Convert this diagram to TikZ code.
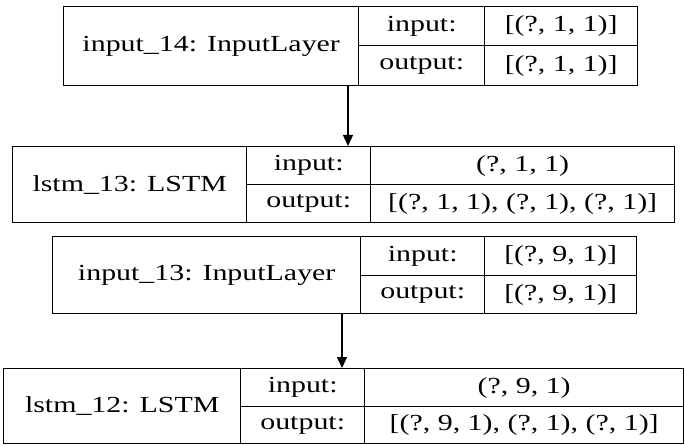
\documentclass[tikz,border=0pt]{standalone}
\usepackage{fontspec}
\setmainfont{Liberation Serif}[FakeStretch=1.3]
\usetikzlibrary{arrows.meta}
\tikzset{
  cell/.style={draw, line width=1.4pt, inner sep=0pt, anchor=north west, font=\fontsize{23}{26}\selectfont},
  flow/.style={-{Triangle[length=11pt,width=10pt]}, line width=1.4pt}
}
% rows of the next layer box: ytop, ymid, ybot
\newcommand{\layerrows}[3]{\def\yt{#1}\def\ym{#2}\def\yb{#3}}
% one layer box: name, x0, x1, x2, x3, title, input, output
\newcommand{\layerbox}[8]{
  \pgfmathsetmacro{\wa}{#3-#2}\pgfmathsetmacro{\wb}{#4-#3}\pgfmathsetmacro{\wc}{#5-#4}
  \pgfmathsetmacro{\ha}{\ym-\yt}\pgfmathsetmacro{\hb}{\yb-\ym}\pgfmathsetmacro{\hc}{\yb-\yt}
  \node[cell, minimum width=\wa pt, minimum height=\hc pt] (#1) at (#2,-\yt) {#6};
  \node[cell, minimum width=\wb pt, minimum height=\ha pt] (#1-il) at (#3,-\yt) {input:};
  \node[cell, minimum width=\wb pt, minimum height=\hb pt] (#1-ol) at (#3,-\ym) {output:};
  \node[cell, minimum width=\wc pt, minimum height=\ha pt] (#1-iv) at (#4,-\yt) {#7};
  \node[cell, minimum width=\wc pt, minimum height=\hb pt] (#1-ov) at (#4,-\ym) {#8};
}
\begin{document}
\begin{tikzpicture}[x=1pt, y=1pt]
  \useasboundingbox (0,0) rectangle (685,-446);
  \layerrows{6}{45}{85}
  \layerbox{in14}{63}{358}{484}{637}{input\_14: InputLayer}{[(?, 1, 1)]}{[(?, 1, 1)]}
  \layerrows{146}{184}{222}
  \layerbox{lstm13}{12}{246}{370}{674}{lstm\_13: LSTM}{(?, 1, 1)}{[(?, 1, 1), (?, 1), (?, 1)]}
  \layerrows{236}{275}{313}
  \layerbox{in13}{52}{360}{484}{636}{input\_13: InputLayer}{[(?, 9, 1)]}{[(?, 9, 1)]}
  \layerrows{368}{406}{443}
  \layerbox{lstm12}{3}{240}{364}{683}{lstm\_12: LSTM}{(?, 9, 1)}{[(?, 9, 1), (?, 1), (?, 1)]}
  \draw[flow] (in14.south -| 348,0) -- (lstm13.north -| 348,0);
  \draw[flow] (in13.south -| 342,0) -- (lstm12.north -| 342,0);
\end{tikzpicture}
\end{document}
